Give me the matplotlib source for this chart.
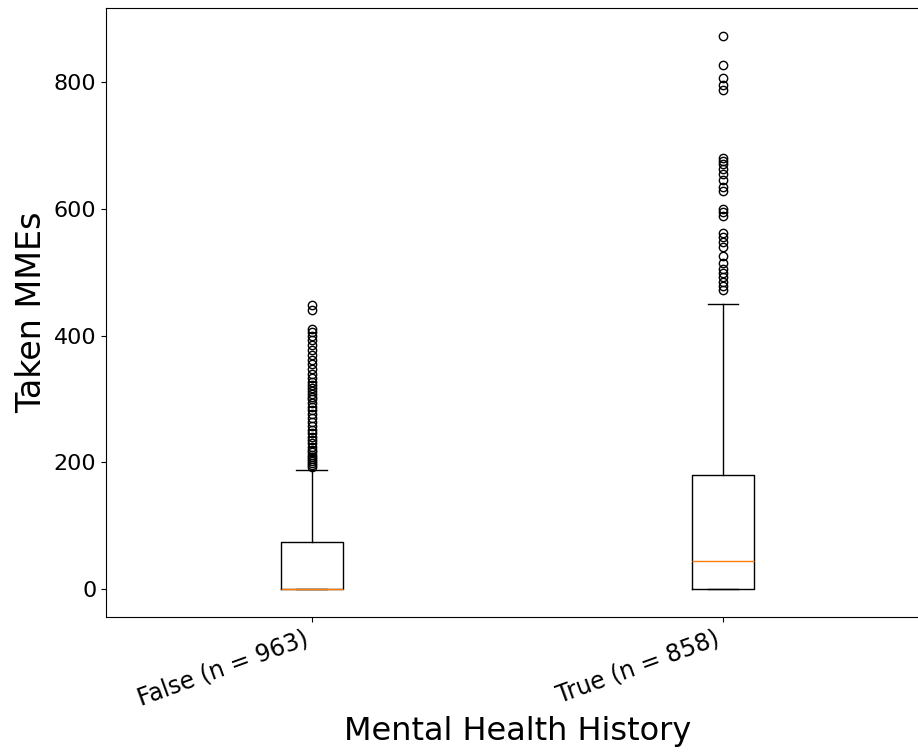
import matplotlib
matplotlib.use("Agg")
import matplotlib.pyplot as plt

# box summaries
labels = ["False (n = 963)", "True (n = 858)"]
q1 = [0, 0]
med = [0, 45]
q3 = [74, 180]
whislo = [0, 0]
whishi = [188, 450]

fliers_false = [193, 196, 199, 202, 205, 208, 212, 216, 220, 225, 230, 235,
                240, 246, 252, 258, 264, 270, 276, 282, 288, 294, 300, 304,
                308, 312, 317, 322, 327, 333, 340, 347, 355, 362, 370, 378,
                386, 393, 400, 405, 410, 440, 449]
fliers_true = [472, 478, 485, 492, 498, 505, 515, 525, 540, 548, 555, 562,
               588, 595, 600, 628, 635, 645, 655, 662, 670, 675, 680,
               787, 795, 806, 827, 873]
fliers = [fliers_false, fliers_true]

stats = []
for i in range(len(labels)):
    stats.append({"label": labels[i], "q1": q1[i], "med": med[i], "q3": q3[i],
                  "whislo": whislo[i], "whishi": whishi[i], "fliers": fliers[i]})

fig = plt.figure(figsize=(9.18, 7.53), dpi=100)
ax = fig.add_axes([0.1155, 0.1806, 0.896, 0.8088])
ax.bxp(stats, positions=[1, 2], widths=0.15)
ax.set_xlim(0.5, 2.5)

ax.set_xticks([1, 2])
ax.set_xticklabels(labels, rotation=20, ha="right", fontsize=17)
ax.tick_params(axis="y", labelsize=16)
ax.set_ylabel("Taken MMEs", fontsize=24)
ax.set_xlabel("Mental Health History", fontsize=23)

fig.savefig("out.png", dpi=100)
